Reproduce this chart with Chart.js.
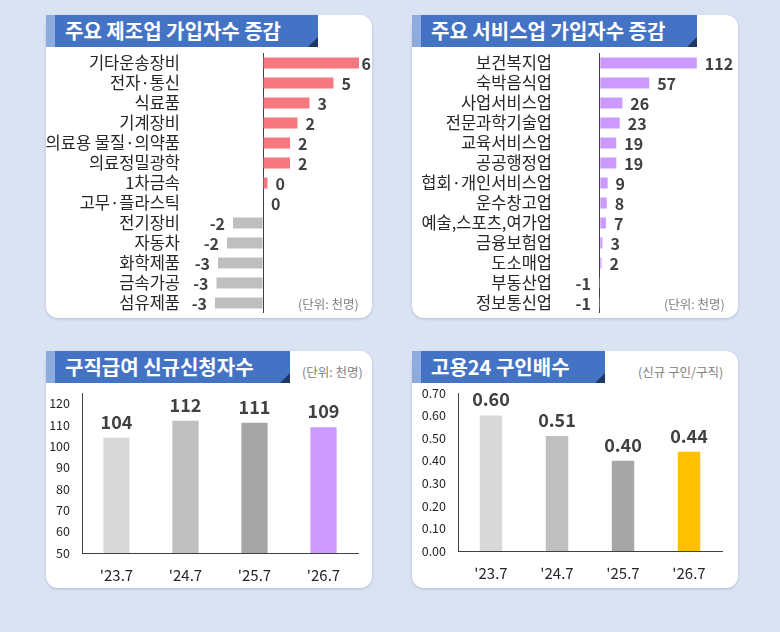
<!DOCTYPE html>
<html>
<head>
<meta charset="utf-8">
<script src="https://cdn.jsdelivr.net/npm/chart.js@4.4.1/dist/chart.umd.min.js"></script>
<style>
  body { margin: 0; width: 780px; height: 632px; background: #dae3f3; position: relative; overflow: hidden; font-family: "Noto Sans CJK KR", sans-serif; }
  .panel { position: absolute; background: #fff; border-radius: 12px; box-shadow: 0 1px 3px rgba(60, 80, 120, 0.25); }
  .banner { position: absolute; left: 0; top: 0; background: #4472c4; border-left: 9px solid #8faadc; color: #fff; font-weight: bold; font-size: 20px; padding-left: 10px; box-sizing: border-box; white-space: nowrap; }
  .banner:after { content: ""; position: absolute; right: 0; bottom: 0; width: 0; height: 0; border-bottom: 10px solid #203864; border-left: 10px solid transparent; }
  .unit { position: absolute; font-size: 12.5px; color: #808080; white-space: nowrap; z-index: 2; }
  canvas { position: absolute; }
</style>
</head>
<body>

<div class="panel" style="left:46px;top:15px;width:326px;height:303px;">
  <div class="banner" style="width:272px;height:32px;line-height:32px;">주요 제조업 가입자수 증감</div>
</div>
<div class="panel" style="left:412px;top:15px;width:326px;height:303px;">
  <div class="banner" style="width:285px;height:32px;line-height:32px;">주요 서비스업 가입자수 증감</div>
</div>
<div class="panel" style="left:46px;top:351px;width:326px;height:237px;">
  <div class="banner" style="width:244px;height:32px;line-height:32px;">구직급여 신규신청자수</div>
</div>
<div class="panel" style="left:412px;top:351px;width:326px;height:237px;">
  <div class="banner" style="width:193px;height:32px;line-height:32px;">고용24 구인배수</div>
</div>

<div class="unit" style="left:298px;top:294px;">(단위: 천명)</div>
<div class="unit" style="left:664px;top:294px;">(단위: 천명)</div>
<div class="unit" style="left:302px;top:362px;">(단위: 천명)</div>
<div class="unit" style="left:638px;top:362px;">(신규 구인/구직)</div>

<canvas id="mfg" style="left:46px;top:50px;width:326px;height:268px;"></canvas>
<canvas id="svc" style="left:412px;top:50px;width:326px;height:268px;"></canvas>
<canvas id="ben" style="left:46px;top:385px;width:326px;height:203px;"></canvas>
<canvas id="job" style="left:412px;top:385px;width:326px;height:203px;"></canvas>

<script>
// 주요 제조업 가입자수 증감 (천명)
const mfgLabels = ['기타운송장비', '전자·통신', '식료품', '기계장비', '의료용 물질·의약품', '의료정밀광학',
  '1차금속', '고무·플라스틱', '전기장비', '자동차', '화학제품', '금속가공', '섬유제품'];
const mfgValues = [6.4, 4.7, 3.1, 2.3, 1.8, 1.8, 0.3, 0.0, -2.0, -2.4, -3.0, -3.1, -3.2];

// 주요 서비스업 가입자수 증감 (천명)
const svcLabels = ['보건복지업', '숙박음식업', '사업서비스업', '전문과학기술업', '교육서비스업', '공공행정업',
  '협회·개인서비스업', '운수창고업', '예술,스포츠,여가업', '금융보험업', '도소매업', '부동산업', '정보통신업'];
const svcValues = [112, 57, 26, 23, 19, 19, 9, 8, 7, 3, 2, -1, -1];

// 구직급여 신규신청자수 (천명) / 고용24 구인배수
const periods = ["'23.7", "'24.7", "'25.7", "'26.7"];
const benefitValues = [104, 112, 111, 109];
const benefitTicks = [50, 60, 70, 80, 90, 100, 110, 120];
const jobRatioValues = [0.60, 0.51, 0.40, 0.44];
const jobRatioTicks = [0, 0.1, 0.2, 0.3, 0.4, 0.5, 0.6, 0.7];

const FONT = '"Noto Sans CJK KR", sans-serif';
const TEXT = '#262626';

// draws the value next to / above each bar
const valueLabels = {
  id: 'valueLabels',
  afterDatasetsDraw(chart, args, opts) {
    const ctx = chart.ctx;
    const ds = chart.data.datasets[0];
    const meta = chart.getDatasetMeta(0);
    ctx.save();
    ctx.fillStyle = '#404040';
    ctx.font = 'bold ' + opts.size + 'px ' + FONT;
    meta.data.forEach((bar, i) => {
      const v = ds.data[i];
      const txt = opts.format(v);
      if (opts.horizontal) {
        ctx.textBaseline = 'middle';
        if (v >= 0) {
          ctx.textAlign = 'left';
          let x = bar.x + opts.gap;
          const w = ctx.measureText(txt).width;
          x = Math.min(x, chart.width - w - 1);
          ctx.fillText(txt, x, bar.y + 1);
        } else {
          ctx.textAlign = 'right';
          ctx.fillText(txt, bar.x - opts.gap, bar.y + 1);
        }
      } else {
        ctx.textAlign = 'center';
        ctx.textBaseline = 'bottom';
        ctx.fillText(txt, bar.x, bar.y - opts.gap);
      }
    });
    ctx.restore();
  }
};

function hBar(id, labels, values, color, min, max, axisWidth, padRight) {
  new Chart(document.getElementById(id), {
    type: 'bar',
    data: {
      labels: labels,
      datasets: [{
        data: values,
        backgroundColor: values.map(v => v >= 0 ? color : '#bfbfbf'),
        barPercentage: 0.55,
        categoryPercentage: 1.0
      }]
    },
    options: {
      indexAxis: 'y',
      responsive: false,
      animation: false,
      layout: { padding: { top: 3, bottom: 5, left: 0, right: padRight } },
      plugins: {
        legend: { display: false },
        tooltip: { enabled: false },
        valueLabels: { horizontal: true, gap: 8, size: 16, format: v => String(Math.round(v)) }
      },
      scales: {
        x: {
          min: min, max: max,
          afterBuildTicks: axis => { axis.ticks = [{ value: 0 }]; },
          afterFit: axis => { axis.height = 0; },
          ticks: { display: false },
          grid: { color: '#404040', lineWidth: 1, drawTicks: false },
          border: { display: false }
        },
        y: {
          afterFit: axis => { axis.width = axisWidth; axis.paddingTop = 0; axis.paddingBottom = 0; },
          grid: { display: false, drawTicks: false },
          border: { display: false },
          ticks: { autoSkip: false, color: TEXT, padding: 8, font: { family: FONT, size: 16.5 } }
        }
      }
    },
    plugins: [valueLabels]
  });
}

function vBar(id, values, colors, ticks, yOpts, axisWidth, padRight, axisHeight, labelSize, fmt) {
  new Chart(document.getElementById(id), {
    type: 'bar',
    data: {
      labels: periods,
      datasets: [{
        data: values,
        backgroundColor: colors,
        barPercentage: yOpts.barPct,
        categoryPercentage: 1.0
      }]
    },
    options: {
      responsive: false,
      animation: false,
      layout: { padding: { top: 8, bottom: 0, left: 0, right: padRight } },
      plugins: {
        legend: { display: false },
        tooltip: { enabled: false },
        valueLabels: { horizontal: false, gap: 7, size: labelSize, format: fmt }
      },
      scales: {
        x: {
          afterFit: axis => { axis.height = axisHeight; axis.paddingLeft = 0; axis.paddingRight = 0; },
          grid: { display: false, drawTicks: false },
          border: { color: '#404040', width: 1 },
          ticks: { color: TEXT, padding: 13, font: { family: FONT, size: 15 } }
        },
        y: {
          min: yOpts.min, max: yOpts.max,
          afterBuildTicks: axis => { axis.ticks = ticks.map(v => ({ value: v })); },
          afterFit: axis => { axis.width = axisWidth; axis.paddingTop = 0; axis.paddingBottom = 0; },
          grid: { display: false, drawTicks: false },
          border: { color: '#404040', width: 1 },
          ticks: {
            color: TEXT, padding: 12,
            font: { family: FONT, size: 12.5 },
            callback: v => yOpts.tick(v)
          }
        }
      }
    },
    plugins: [valueLabels]
  });
}

hBar('mfg', mfgLabels, mfgValues, '#f8777f', -5, 6.5, 142, 11.5);
hBar('svc', svcLabels, svcValues, '#cc99ff', -46, 150, 148, 8.3);

vBar('ben', benefitValues, ['#d9d9d9', '#bfbfbf', '#a6a6a6', '#cc99ff'], benefitTicks,
  { min: 50, max: 125, barPct: 0.38, tick: v => v }, 36, 14, 35, 18, v => String(v));
vBar('job', jobRatioValues, ['#d9d9d9', '#bfbfbf', '#a6a6a6', '#ffc000'], jobRatioTicks,
  { min: 0, max: 0.7, barPct: 0.34, tick: v => v.toFixed(2) }, 46, 16, 37, 18, v => v.toFixed(2));
</script>
</body>
</html>
